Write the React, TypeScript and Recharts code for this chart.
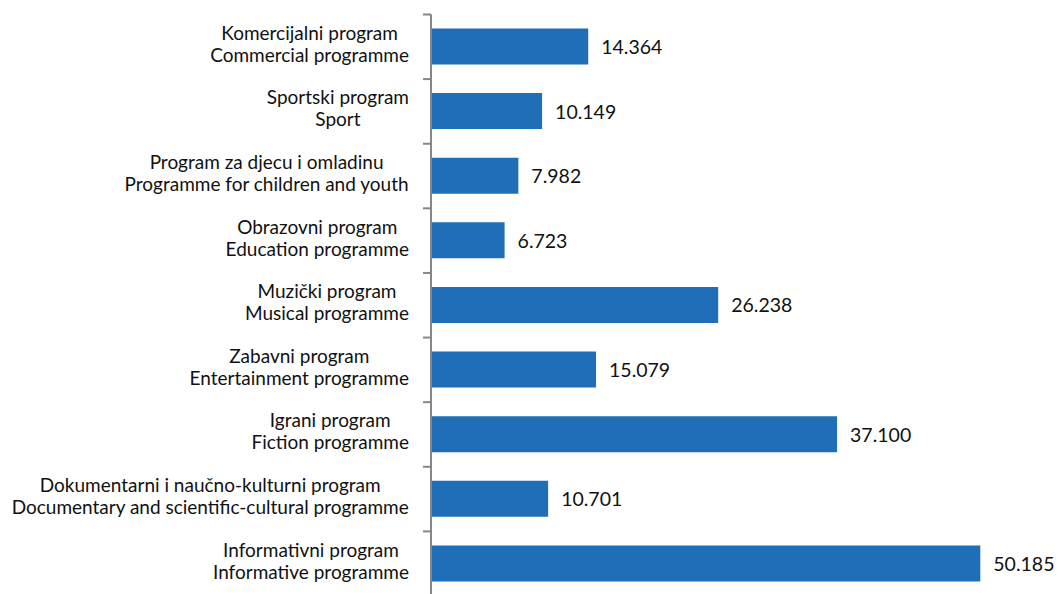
import { BarChart, Bar, XAxis, YAxis, LabelList } from 'recharts';

const namesLocal = [
  'Komercijalni program',
  'Sportski program',
  'Program za djecu i omladinu',
  'Obrazovni program',
  'Muzički program',
  'Zabavni program',
  'Igrani program',
  'Dokumentarni i naučno-kulturni program',
  'Informativni program',
];

const namesEn = [
  'Commercial programme',
  'Sport',
  'Programme for children and youth',
  'Education programme',
  'Musical programme',
  'Entertainment programme',
  'Fiction programme',
  'Documentary and scientific-cultural programme',
  'Informative programme',
];

const hours = [14364, 10149, 7982, 6723, 26238, 15079, 37100, 10701, 50185];

const data = namesLocal.map((n, i) => ({ name: n, en: namesEn[i], value: hours[i] }));

const FONT = 'Lato, "Open Sans", sans-serif';
const TICK_SIZE = 19;
const VALUE_SIZE = 19.5;

let ctx: CanvasRenderingContext2D | null = null;
function textWidth(s: string, size: number) {
  if (!ctx) ctx = document.createElement('canvas').getContext('2d');
  if (!ctx) return s.length * size * 0.5;
  ctx.font = `${size}px Lato`;
  return ctx.measureText(s).width;
}

const fmt = (v: number) => String(v).replace(/\B(?=(\d{3})+(?!\d))/g, '.');

function CategoryTick(props: any) {
  const { x, y, payload } = props;
  const row = data[payload.index] ?? data.find((d) => d.name === payload.value);
  const half = payload.offset ?? 32.3;
  const w = Math.max(textWidth(row.name, TICK_SIZE), textWidth(row.en, TICK_SIZE));
  const cx = x - w / 2;
  return (
    <g>
      <line x1={x + 14} x2={x + 22} y1={y - half} y2={y - half} stroke="#868686" strokeWidth={2} />
      <text x={cx} y={y} textAnchor="middle" fontFamily={FONT} fontSize={TICK_SIZE} fill="#111">
        <tspan x={cx} dy={-7}>{row.name}</tspan>
        <tspan x={cx} dy={22}>{row.en}</tspan>
      </text>
    </g>
  );
}

function ValueLabel(props: any) {
  const { x, y, width, height, value } = props;
  return (
    <text
      x={x + width + 13}
      y={y + height / 2}
      dominantBaseline="central"
      fontFamily={FONT}
      fontSize={VALUE_SIZE}
      fill="#111"
    >
      {fmt(value)}
    </text>
  );
}

export default function App() {
  return (
    <div style={{ position: 'absolute', left: 0, top: 0, background: '#fff' }}>
      <BarChart
        width={1061}
        height={600}
        data={data}
        layout="vertical"
        margin={{ top: 14.5, right: 28, bottom: 4, left: 0 }}
        barCategoryGap="28%"
      >
        <XAxis type="number" hide domain={[0, 55000]} />
        <YAxis
          type="category"
          dataKey="name"
          width={431}
          tickLine={false}
          tickSize={8}
          tickMargin={14}
          axisLine={{ stroke: '#868686', strokeWidth: 2 }}
          tick={<CategoryTick />}
          interval={0}
        />
        <Bar dataKey="value" fill="#1f6eb7" barSize={36} isAnimationActive={false}>
          <LabelList dataKey="value" content={<ValueLabel />} />
        </Bar>
      </BarChart>
    </div>
  );
}
